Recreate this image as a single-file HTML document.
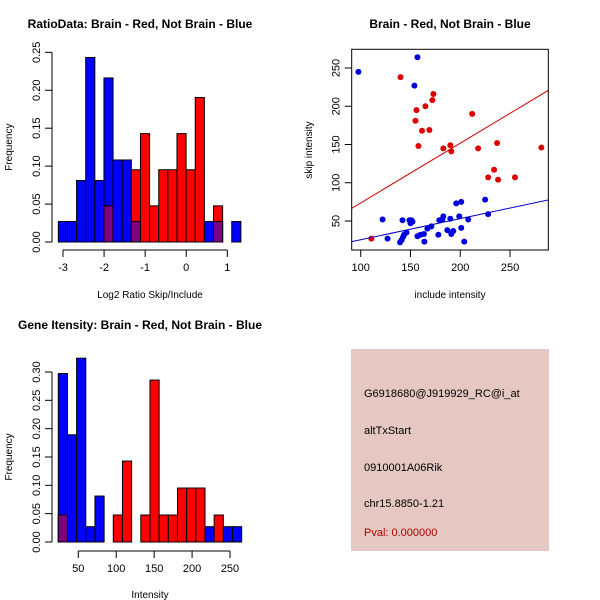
<!DOCTYPE html>
<html><head><meta charset="utf-8"><style>
body{margin:0;background:#fff;}
svg{display:block;font-family:"Liberation Sans",sans-serif;}
</style></head><body>
<svg id="c" width="600" height="600" viewBox="0 0 600 600">
<rect width="600" height="600" fill="#fff"/>
<g>
<rect x="351" y="349" width="198" height="202" fill="#e5c8c1"/>
<text x="364" y="397" font-size="11" fill="#000">G6918680@J919929_RC@i_at</text>
<text x="364" y="434" font-size="11" fill="#000">altTxStart</text>
<text x="364" y="471" font-size="11" fill="#000">0910001A06Rik</text>
<text x="364" y="507" font-size="11" fill="#000">chr15.8850-1.21</text>
<text x="364" y="536" font-size="11" fill="#b00000">Pval: 0.000000</text>
</g>
</svg>
<script>
// ---- Histogram 1: log2 ratio ----
const h1Blue = [1,1,3,9,3,8,4,4,1,0,0,0,0,0,0,0,1,1,0,1];
const h1Red  = [0,0,0,0,0,1,0,0,2,3,1,2,2,3,2,4,0,1,0,0];
const h1Ticks = [-3,-2,-1,0,1];
const h1YTicks = ["0.00","0.05","0.10","0.15","0.20","0.25"];
// ---- Histogram 2: intensity ----
const h2Blue = [11,7,12,1,3,0,0,0,0,0,0,0,0,0,0,0,1,0,1,1];
const h2Red  = [1,0,0,0,0,0,1,3,0,1,6,1,1,2,2,2,0,1,0,0];
const h2Ticks = [50,100,150,200,250];
const h2YTicks = ["0.00","0.05","0.10","0.15","0.20","0.25","0.30"];
// ---- Scatter ----
const blueX = [97.7,157,154,122,127,142,139.5,141,142.5,143.5,146,149,151,150,157,160,163.5,164,167,171,178,179,182,183,187,190,191,193,196,201,199,201,204,208,225,228,152];
const blueY = [245,264,227,52,27,51,22,25,29,32,35,51,51,47,30,32,33,23,40,43,32,51,52,56,38,53,33,37,73,75,56,41,23,52,78,59,49];
const redX = [140,173,172,156,165,155,161.6,169,158,183,190,191,212,218,237,234,228,238,255,281.5,110.7];
const redY = [238,216,208,195,200,181,168,169,148,145,149,141,190,145,152,117,107,104,107,146,27];
const redFit = [-4.5,0.781];
const blueFit = [-2.1,0.276];
const scXTicks = [100,150,200,250];
const scYTicks = [50,100,150,200,250];

const svg = document.getElementById('c');
const NS = 'http://www.w3.org/2000/svg';
function mk(tag, at, parent){const e=document.createElementNS(NS,tag);for(const k in at)e.setAttribute(k,at[k]);(parent||svg).appendChild(e);return e;}
function txt(x,y,s,size,extra){const t=mk('text',Object.assign({x:x,y:y,'font-size':size,'text-anchor':'middle',fill:'#000'},extra||{}));t.textContent=s;return t;}

function histogram(name, blue, red, x0, bw, xs, ys, ticks, yticks, axY, title, titleY, xlab, xlabY){
  const g = mk('g',{});
  
  
  const nb = blue.reduce((a,b)=>a+b,0), nr = red.reduce((a,b)=>a+b,0);
  for(let i=0;i<blue.length;i++){
    const l=xs(x0+i*bw), r=xs(x0+(i+1)*bw);
    const fb=blue[i]/nb, fr=red[i]/nr;
    if(fb>0){const e=mk('rect',{x:l,y:ys(fb),width:r-l,height:ys(0)-ys(fb),fill:'#0000ff',stroke:'#000','stroke-width':1},g);
      
      }
    if(fr>0){const e=mk('rect',{x:l,y:ys(fr),width:r-l,height:ys(0)-ys(fr),fill:'#ff0000',stroke:'#000','stroke-width':1},g);
      
      }
    const m=Math.min(fb,fr);
    if(m>0){const e=mk('rect',{x:l,y:ys(m),width:r-l,height:ys(0)-ys(m),fill:'#7f007f',stroke:'#000','stroke-width':1},g);
      
      }
  }
  // y axis
  const yv = yticks.map(Number);
  mk('line',{x1:52,x2:52,y1:ys(yv[0]),y2:ys(yv[yv.length-1]),stroke:'#000'},g);
  yticks.forEach(s=>{const v=+s;const y=ys(v);mk('line',{x1:45,x2:52,y1:y,y2:y,stroke:'#000'},g);
    const t=txt(40,y,s,11,{transform:'rotate(-90 40 '+y+')'});g.appendChild(t);
    
    });
  // x axis
  mk('line',{x1:xs(ticks[0]),x2:xs(ticks[ticks.length-1]),y1:axY,y2:axY,stroke:'#000'},g);
  ticks.forEach(v=>{const x=xs(v);mk('line',{x1:x,x2:x,y1:axY,y2:axY+7,stroke:'#000'},g);
    const t=txt(x,axY+21,String(v),11);g.appendChild(t);
    
    });
  const tt=txt(140,titleY,title,12,{'font-weight':'bold'});g.appendChild(tt);
  
  
  const xl=txt(150,xlabY,xlab,10);g.appendChild(xl);
  
  
  const cy=(ys(0)+ys(yv[yv.length-1]))/2;
  const yl=txt(12,cy,'Frequency',10,{transform:'rotate(-90 12 '+cy+')'});g.appendChild(yl);
  
  
}

// Histogram 1
const xs1 = v => 63 + (v+3)*41.08;
const ys1 = v => 242 - v*758.7;
histogram('ratio-histogram', h1Blue, h1Red, -3.114, 0.2222, xs1, ys1, h1Ticks, h1YTicks, 250,
  'RatioData: Brain - Red, Not Brain - Blue', 28, 'Log2 Ratio Skip/Include', 298);

// Histogram 2
const xs2 = v => 78.3 + (v-50)*0.7585;
const ys2 = v => 542 - v*566.7;
histogram('intensity-histogram', h2Blue, h2Red, 23.6, 12.09, xs2, ys2, h2Ticks, h2YTicks, 551,
  'Gene Itensity: Brain - Red, Not Brain - Blue', 329, 'Intensity', 598);

// Scatter
const sx = v => 360.7 + (v-100)*0.9955;
const sy = v => 221 - (v-50)*0.765;
const L=351.7,R=548.3,T=49.3,B=250;
const sg = mk('g',{});


mk('defs',{},sg).innerHTML='<clipPath id="cp"><rect x="'+L+'" y="'+T+'" width="'+(R-L)+'" height="'+(B-T)+'"/></clipPath>';
redX.forEach((x,i)=>{const c=mk('circle',{cx:sx(x),cy:sy(redY[i]),r:3,fill:'#dd0000'},sg);
  
  });
blueX.forEach((x,i)=>{const c=mk('circle',{cx:sx(x),cy:sy(blueY[i]),r:3,fill:'#0000dd'},sg);
  
  });
const xa=91, xb=290;
const rl=mk('line',{x1:sx(xa),y1:sy(redFit[0]+redFit[1]*xa),x2:sx(xb),y2:sy(redFit[0]+redFit[1]*xb),stroke:'#cc0000','clip-path':'url(#cp)'},sg);


const bl=mk('line',{x1:sx(xa),y1:sy(blueFit[0]+blueFit[1]*xa),x2:sx(xb),y2:sy(blueFit[0]+blueFit[1]*xb),stroke:'#0000cc','clip-path':'url(#cp)'},sg);


mk('rect',{x:L,y:T,width:R-L,height:B-T,fill:'none',stroke:'#000'},sg);
scXTicks.forEach(v=>{const x=sx(v);mk('line',{x1:x,x2:x,y1:B,y2:B+7,stroke:'#000'},sg);
  const t=txt(x,B+21,String(v),11);sg.appendChild(t);
  
  });
scYTicks.forEach(v=>{const y=sy(v);mk('line',{x1:L-7,x2:L,y1:y,y2:y,stroke:'#000'},sg);
  const t=txt(L-12,y,String(v),11,{transform:'rotate(-90 '+(L-12)+' '+y+')'});sg.appendChild(t);
  
  });
const st=txt(450,28,'Brain - Red, Not Brain - Blue',12,{'font-weight':'bold'});sg.appendChild(st);


const sxl=txt(450,298,'include intensity',10);sg.appendChild(sxl);


const syl=txt(312,150,'skip intensity',10,{transform:'rotate(-90 312 150)'});sg.appendChild(syl);


</script>
</body></html>
